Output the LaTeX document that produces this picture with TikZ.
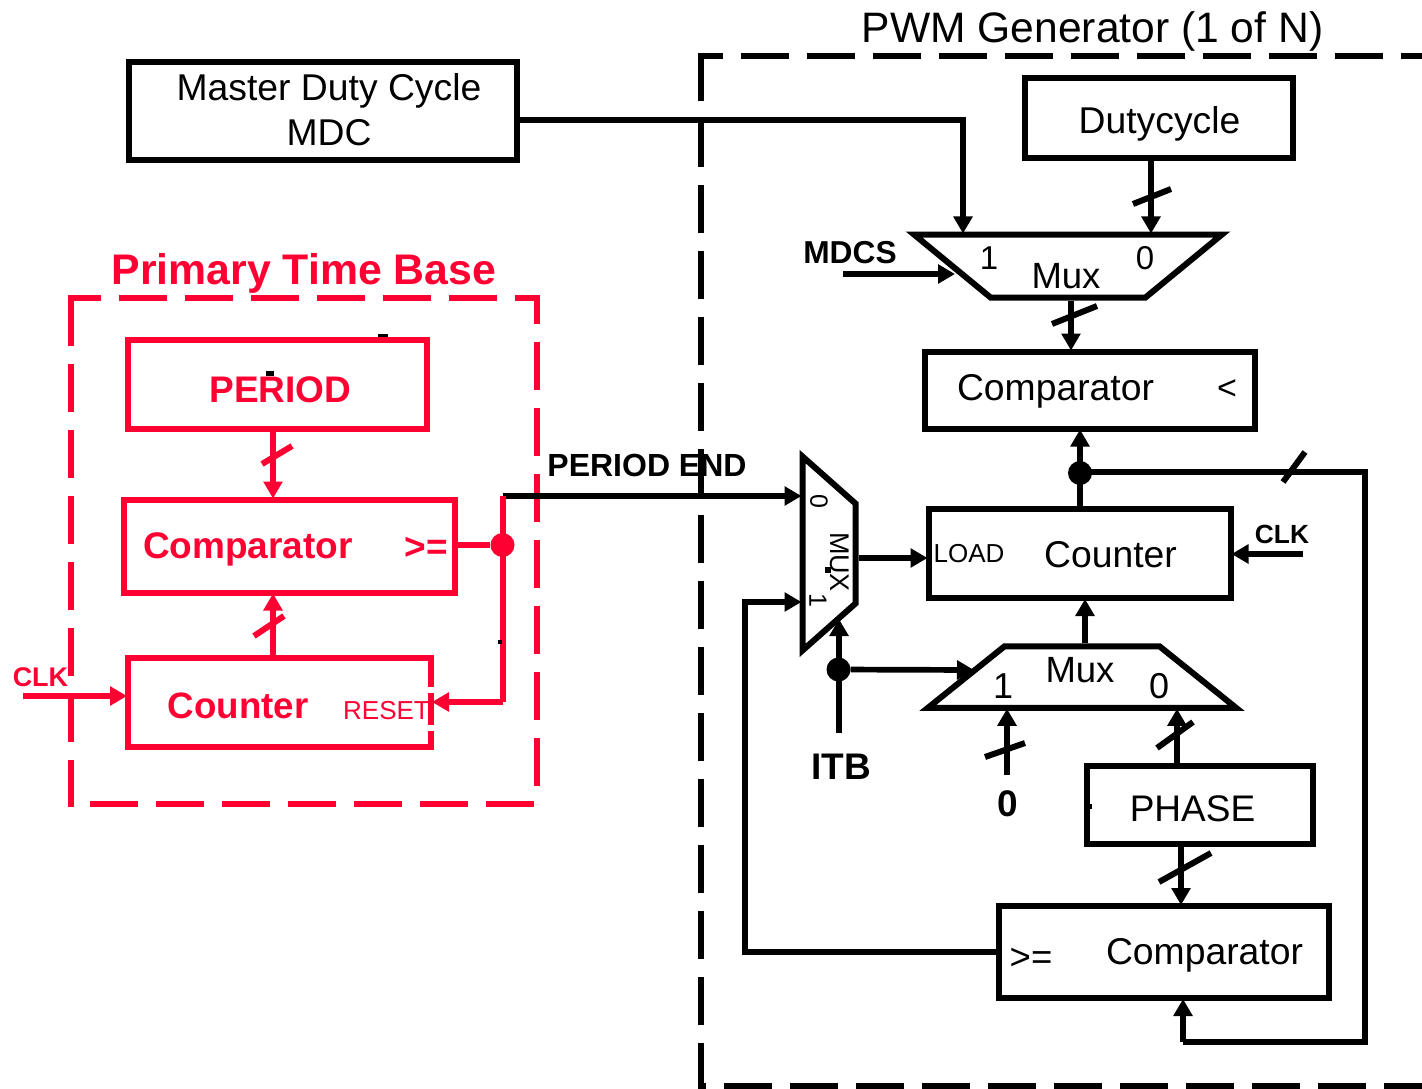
\documentclass[tikz,border=0pt]{standalone}
\usepackage{fontspec}
\setmainfont{Liberation Sans}
\usetikzlibrary{arrows.meta,shapes.geometric}
\definecolor{tbred}{HTML}{FF0033}
\newcommand{\muxfill}{\phantom{\rule{2pt}{2pt}}}
\tikzset{
  x=1pt,y=-1pt,
  fs/.style={font=\fontsize{#1}{#1}\selectfont},
  fb/.style={font=\fontsize{#1}{#1}\selectfont\bfseries},
  lbl/.style={anchor=base,inner sep=0pt,outer sep=0pt},
  blk/.style={draw,line width=6pt,inner sep=0pt,fill=white},
  wire/.style={line width=5.7pt},
  arr/.style={line width=5.7pt,shorten >=-2pt,-{Triangle[length=17pt,width=18.5pt]}},
  tick/.style={line width=6pt},
  dot/.style={circle,fill,inner sep=0pt,minimum size=24pt},
  mux/.style={draw,line width=6pt,inner sep=0pt,trapezium,trapezium stretches=true},
  bord/.style={line width=6pt,dash pattern=on 48pt off 18pt},
}
\begin{document}
\begin{tikzpicture}
\useasboundingbox[fill=white] (0,0) rectangle (1422,1089);
% x / y helper coordinates
\coordinate (xmd) at (963,0);
\coordinate (xdc) at (1151,0);
\coordinate (xmo) at (1071,0);
\coordinate (xcj) at (1080,0);
\coordinate (xmc) at (1085,0);
\coordinate (xm1) at (1007,0);
\coordinate (xm0) at (1177,0);
\coordinate (xph) at (1181,0);
\coordinate (xfb) at (1183,0);
\coordinate (xrt) at (1365,0);
\coordinate (xlp) at (745,0);
\coordinate (xrp) at (273,0);
\coordinate (xrj) at (503,0);
\coordinate (ymd) at (0,120);
\coordinate (ycl) at (0,554);
\coordinate (ylm0) at (0,496);
\coordinate (ylm1) at (0,602);
\coordinate (ylmo) at (0,558);
\coordinate (yfbk) at (0,952);
\coordinate (yrst) at (0,702);
\coordinate (yrck) at (0,696);
\coordinate (yjn) at (0,472);
% free ends
\coordinate (mdcsS) at (843,274);
\coordinate (mdcsE) at (953,274);
\coordinate (itbS) at (839,733);
\coordinate (itbE) at (839,621);
\coordinate (selE) at (972,670);
\coordinate (zeroS) at (1007,775);
\coordinate (clkS) at (1303,554);
\coordinate (rclkS) at (23,696);
\coordinate (fbBot) at (1183,1042);
\coordinate (fbBotR) at (1365,1042);
\coordinate (perS) at (503,496);
% dashed enclosures
\draw[bord,tbred,dash phase=0pt] (71,298) -- (71,807);
\draw[bord,tbred,dash phase=22pt] (537,298) -- (537,804);
\draw[bord,tbred,dash phase=44pt] (68,804) -- (537,804);
\draw[bord,tbred,dash phase=15pt] (68,298) -- (540,298);
\draw[bord,dash phase=0pt] (701,53) -- (701,1089);
\draw[bord,dash phase=23pt] (698,56) -- (1422,56);
\draw[bord,dash phase=40pt] (698,1086) -- (1422,1086);
% black blocks
\node[blk,minimum width=388pt,minimum height=98pt] (mdc) at (323,111) {};
\node[blk,minimum width=268pt,minimum height=80pt] (duty) at (1159,118) {};
\node[blk,minimum width=330pt,minimum height=77pt] (cmpT) at (1089.5,390) {};
\node[blk,minimum width=302pt,minimum height=89pt] (cnt) at (1079.5,553.5) {};
\node[blk,minimum width=226pt,minimum height=78pt] (phase) at (1200,805) {};
\node[blk,minimum width=330pt,minimum height=92pt] (cmpB) at (1164,952) {};
\node[mux,shape border rotate=180,trapezium left angle=63.7,trapezium right angle=63.7,minimum width=308pt,minimum height=63pt] (muxT) at (1068,266) {\muxfill};
\node[mux,trapezium left angle=63.7,trapezium right angle=63.7,minimum width=308pt,minimum height=61.5pt] (muxB) at (1082,677) {\muxfill};
\node[mux,shape border rotate=270,trapezium left angle=64.8,trapezium right angle=64.8,minimum width=194pt,minimum height=53pt] (muxL) at (829,553.5) {\muxfill};
% black connectors
\draw[arr] (mdc.east |- ymd) -- (xmd |- ymd) -- (muxT.north -| xmd);
\draw[arr] (duty.south -| xdc) -- (muxT.north -| xdc);
\draw[arr] (muxT.south -| xmo) -- (cmpT.north -| xmo);
\draw[arr] (mdcsS) -- (mdcsE);
\draw[arr] (cnt.north -| xcj) -- (cmpT.south -| xcj);
\draw[wire] (xcj |- yjn) -- (xrt |- yjn) -- (fbBotR) -- (fbBot);
\draw[arr] (fbBot) -- (cmpB.south -| xfb);
\draw[arr] (muxB.north -| xmc) -- (cnt.south -| xmc);
\draw[arr] (clkS) -- (cnt.east |- clkS);
\draw[arr] (muxL.east |- ylmo) -- (cnt.west |- ylmo);
\draw[arr] (perS) -- (muxL.west |- ylm0);
\draw[arr] (cmpB.west |- yfbk) -- (xlp |- yfbk) -- (xlp |- ylm1) -- (muxL.west |- ylm1);
\draw[arr] (itbS) -- (itbE);
\node[dot] (jsel) at (838.5,669.5) {};
\node[dot] (jfb) at (1080,473) {};
\draw[arr] (jsel) -- (selE);
\draw[arr] (zeroS) -- (muxB.south -| xm1);
\draw[arr] (phase.north -| xm0) -- (muxB.south -| xm0);
\draw[arr] (phase.south -| xph) -- (cmpB.north -| xph);
% black slashes
\draw[tick] (1133,204) -- (1171,189);
\draw[tick] (1052,324) -- (1097,306);
\draw[tick] (1283,482) -- (1305,452);
\draw[tick] (985,757) -- (1025,743);
\draw[tick] (1157,748) -- (1193,722);
\draw[tick] (1159,882) -- (1211,853);
% red blocks
\begin{scope}[tbred]
\node[blk,minimum width=299pt,minimum height=89pt] (rper) at (277.5,384) {};
\node[blk,minimum width=331pt,minimum height=93pt] (rcmp) at (289.5,546) {};
\node[blk,minimum width=303pt,minimum height=89pt] (rcnt) at (279.5,702) {};
\draw[arr] (rper.south -| xrp) -- (rcmp.north -| xrp);
\draw[arr] (rcnt.north -| xrp) -- (rcmp.south -| xrp);
\node[dot] (rj) at (502.5,545) {};
\draw[wire] (rcmp.east |- rj) -- (rj);
\draw[wire] (perS) -- (xrj |- yrst);
\draw[arr] (xrj |- yrst) -- (rcnt.east |- yrst);
\draw[arr] (rclkS) -- (rcnt.west |- yrck);
\draw[tick] (262,464) -- (292,446);
\draw[tick] (254,636) -- (284,616);
\end{scope}
% white notches in the red counter's right edge
\fill[white] (428,687) rectangle (435,693);
\fill[white] (428,725) rectangle (435,731);
% specks
\fill (378,334) rectangle (388,337);
\fill (266,371) rectangle (274,376);
\fill (498,640) rectangle (502,644);
\fill (825,567) rectangle (831,573);
\fill (1088,804) rectangle (1092,809);
% black text
\node[lbl,fs=42.6] (tpwm) at (1092.5,43) {PWM Generator (1 of N)};
\node[lbl,fs=37.3] (tmdc1) at (329,101) {Master Duty Cycle};
\node[lbl,fs=37.3] (tmdc2) at (329,146) {MDC};
\node[lbl,fs=37.3] (tduty) at (1159.5,134) {Dutycycle};
\node[lbl,fb=31.7] (tmdcs) at (850,263) {MDCS};
\node[lbl,fs=33] (tm1) at (989,269) {1};
\node[lbl,fs=33] (tm0) at (1145,269) {0};
\node[lbl,fs=36.5] (tmt) at (1066,288) {Mux};
\node[lbl,fs=37.3] (tcmpt) at (1055.5,400) {Comparator};
\node[lbl,fs=34] (tlt) at (1227,399) {<};
\node[lbl,fb=32] (tpe) at (647,476) {PERIOD END};
\node[lbl,fs=26] (tload) at (969,562) {LOAD};
\node[lbl,fs=37.3] (tcnt) at (1110.5,567) {Counter};
\node[lbl,fb=26.3] (tclk) at (1282,543) {CLK};
\node[lbl,fs=36.5] (tmb) at (1080,682) {Mux};
\node[lbl,fs=36] (tb1) at (1003,698) {1};
\node[lbl,fs=36] (tb0) at (1159,698) {0};
\node[lbl,fb=37] (titb) at (841.5,779) {ITB};
\node[lbl,fb=37] (tz) at (1008,816) {0};
\node[lbl,fs=37] (tph) at (1192.5,821) {PHASE};
\node[lbl,fs=36.5] (tge) at (1031,969) {>=};
\node[lbl,fs=37.3] (tcmpb) at (1204.5,964) {Comparator};
\node[fs=25,inner sep=0pt,rotate=-90] (tl0) at (819,501) {0};
\node[fs=25,inner sep=0pt,rotate=-90] (tl1) at (818,600) {1};
\node[fs=27,inner sep=0pt,rotate=-90] (tlm) at (840,562) {MUX};
% red text
\begin{scope}[tbred]
\node[lbl,fb=42.8] (tptb) at (304,284) {Primary Time Base};
\node[lbl,fb=37] (trper) at (280.5,402) {PERIOD};
\node[lbl,fb=37] (trcmp) at (248,558) {Comparator};
\node[lbl,fb=37] (trge) at (426.5,559) {>=};
\node[lbl,fb=36.7] (trcnt) at (238,718) {Counter};
\node[lbl,fs=26] (trrs) at (386.5,719) {RESET};
\node[lbl,fb=27] (trclk) at (40.5,686) {CLK};
\end{scope}
\end{tikzpicture}
\end{document}
